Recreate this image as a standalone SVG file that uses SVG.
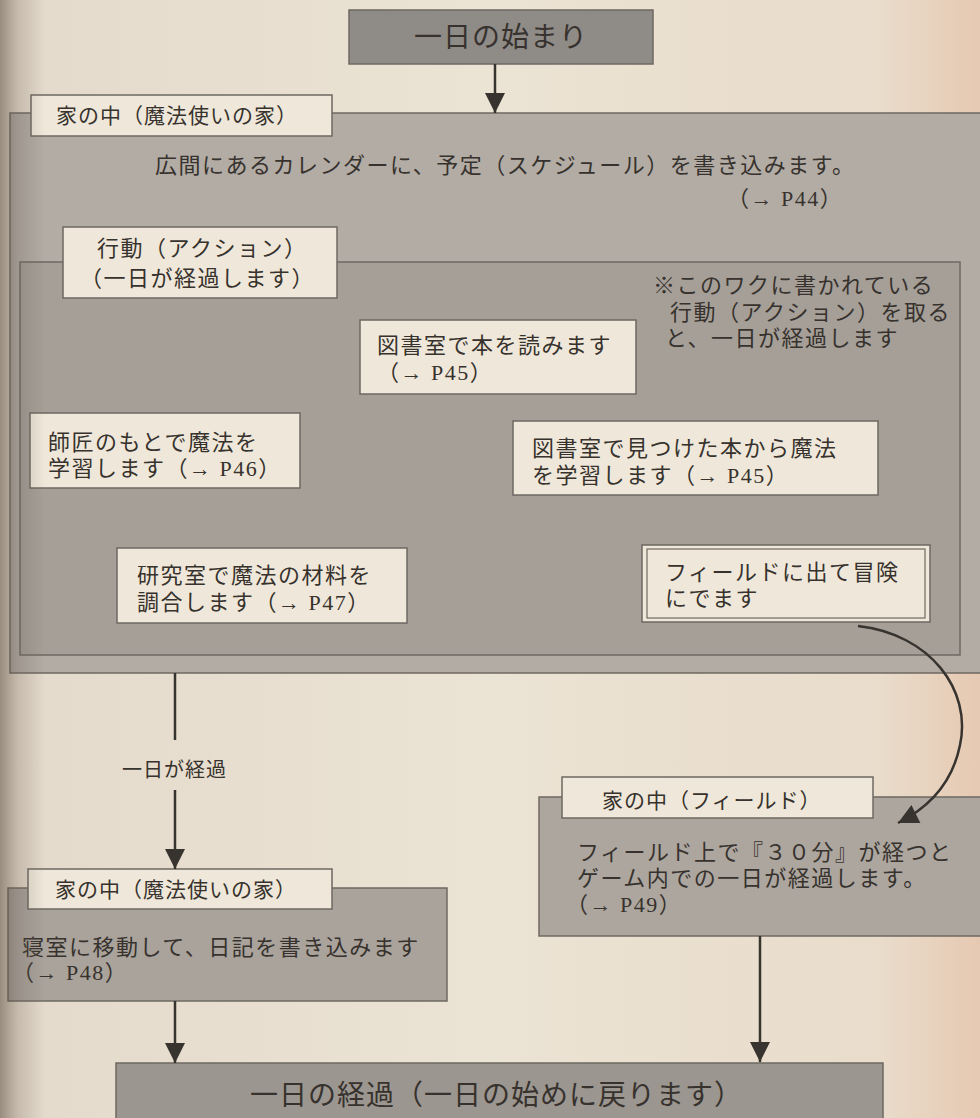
<svg xmlns="http://www.w3.org/2000/svg" width="980" height="1118" viewBox="0 0 980 1118">
<defs>
<linearGradient id="page" x1="0" y1="0" x2="1" y2="0">
<stop offset="0" stop-color="#e4dacb"/>
<stop offset="0.5" stop-color="#ebe3d4"/>
<stop offset="0.9" stop-color="#e9dccb"/>
<stop offset="1" stop-color="#e6c9b2"/>
</linearGradient>
<linearGradient id="gutter" x1="0" y1="0" x2="1" y2="0">
<stop offset="0" stop-color="#5a4c40" stop-opacity="0.55"/>
<stop offset="0.4" stop-color="#6a5c50" stop-opacity="0.25"/>
<stop offset="1" stop-color="#6a5c50" stop-opacity="0"/>
</linearGradient>
<marker id="ah" viewBox="0 0 10 10" refX="10" refY="5" markerWidth="22" markerHeight="20" markerUnits="userSpaceOnUse" orient="auto">
<path d="M0,0 L10,5 L0,10 z" fill="#37332f"/>
</marker>
<style>
text{font-family:"Liberation Serif","Noto Sans CJK JP",serif;fill:#37322d;}
.t{font-size:22px;letter-spacing:1.5px;}
.lb{font-size:21px;letter-spacing:1px;}
.big{font-size:28px;letter-spacing:1px;}
.label{fill:#efe8da;stroke:#6e6862;stroke-width:1.5;}
.node{fill:#efe8da;stroke:#6e6862;stroke-width:1.5;}
.gray{fill:#b2aca5;stroke:#6e6862;stroke-width:1.5;}
.dark{fill:#8f8b87;stroke:#6e6862;stroke-width:1.5;}
.con{fill:none;stroke:#37332f;stroke-width:2.5;}
</style>
</defs>
<rect x="0" y="0" width="980" height="1118" fill="url(#page)"/>

<g id="start">
<rect class="dark" x="349" y="10" width="304" height="54"/>
<text class="big" x="414" y="47">一日の始まり</text>
</g>

<g id="house1">
<rect class="gray" x="10" y="113" width="985" height="560"/>
<rect class="label" x="31" y="95" width="301" height="41"/>
<text class="lb" x="56" y="123">家の中（魔法使いの家）</text>
<text class="t" x="155" y="173">広間にあるカレンダーに、予定（スケジュール）を書き込みます。</text>
<text class="t" x="727" y="206">（→ P44）</text>
</g>

<g id="actions">
<rect x="20" y="262" width="940" height="393" fill="#a59f98" stroke="#6e6862" stroke-width="1.5"/>
<rect class="label" x="63" y="227" width="274" height="71"/>
<text class="t" x="97" y="256">行動（アクション）</text>
<text class="t" x="80" y="286">（一日が経過します）</text>
</g>

<g id="note">
<text class="t" x="653" y="293">※このワクに書かれている</text>
<text class="t" x="670" y="320">行動（アクション）を取る</text>
<text class="t" x="665" y="346">と、一日が経過します</text>
</g>

<g id="read">
<rect class="node" x="360" y="320" width="276" height="74"/>
<text class="t" x="377" y="353">図書室で本を読みます</text>
<text class="t" x="377" y="380">（→ P45）</text>
</g>

<g id="master">
<rect class="node" x="30" y="413" width="270" height="75"/>
<text class="t" x="48" y="450">師匠のもとで魔法を</text>
<text class="t" x="48" y="476">学習します（→ P46）</text>
</g>

<g id="learn">
<rect class="node" x="513" y="421" width="365" height="74"/>
<text class="t" x="532" y="456">図書室で見つけた本から魔法</text>
<text class="t" x="532" y="483">を学習します（→ P45）</text>
</g>

<g id="lab">
<rect class="node" x="117" y="548" width="290" height="75"/>
<text class="t" x="137" y="583">研究室で魔法の材料を</text>
<text class="t" x="137" y="610">調合します（→ P47）</text>
</g>

<g id="field">
<rect class="node" x="642" y="545" width="288" height="77"/>
<rect x="647" y="549" width="278" height="69" fill="none" stroke="#6e6862" stroke-width="1.2"/>
<text class="t" x="665" y="580">フィールドに出て冒険</text>
<text class="t" x="665" y="606">にでます</text>
</g>

<g id="house2">
<rect x="8" y="888" width="439" height="113" fill="#a9a39c" stroke="#6e6862" stroke-width="1.5"/>
<rect class="label" x="28" y="869" width="304" height="40"/>
<text class="lb" x="55" y="897">家の中（魔法使いの家）</text>
<text class="t" x="22" y="955">寝室に移動して、日記を書き込みます</text>
<text class="t" x="12" y="980">（→ P48）</text>
</g>

<g id="fieldhouse">
<rect x="539" y="797" width="460" height="139" fill="#aca69f" stroke="#6e6862" stroke-width="1.5"/>
<rect class="label" x="562" y="777" width="311" height="41"/>
<text class="lb" x="602" y="808">家の中（フィールド）</text>
<text class="t" x="577" y="860">フィールド上で『３０分』が経つと</text>
<text class="t" x="577" y="886">ゲーム内での一日が経過します。</text>
<text class="t" x="566" y="912">（→ P49）</text>
</g>

<g id="end">
<rect x="116" y="1063" width="767" height="70" fill="#9c9690" stroke="#6e6862" stroke-width="1.5"/>
<text class="big" x="250" y="1105">一日の経過（一日の始めに戻ります）</text>
</g>

<g id="connectors">
<line class="con" x1="495" y1="64" x2="495" y2="113" marker-end="url(#ah)"/>
<line class="con" x1="175" y1="673" x2="175" y2="740"/>
<text class="lb" x="122" y="777" style="font-size:20px">一日が経過</text>
<line class="con" x1="175" y1="790" x2="175" y2="869" marker-end="url(#ah)"/>
<line class="con" x1="175" y1="1001" x2="175" y2="1063" marker-end="url(#ah)"/>
<line class="con" x1="760" y1="936" x2="760" y2="1062" marker-end="url(#ah)"/>
<path class="con" d="M858,626 C930,634 972,690 960,745 C952,785 928,808 898,823" marker-end="url(#ah)"/>
</g>

<rect x="0" y="0" width="45" height="1118" fill="url(#gutter)"/>
</svg>
